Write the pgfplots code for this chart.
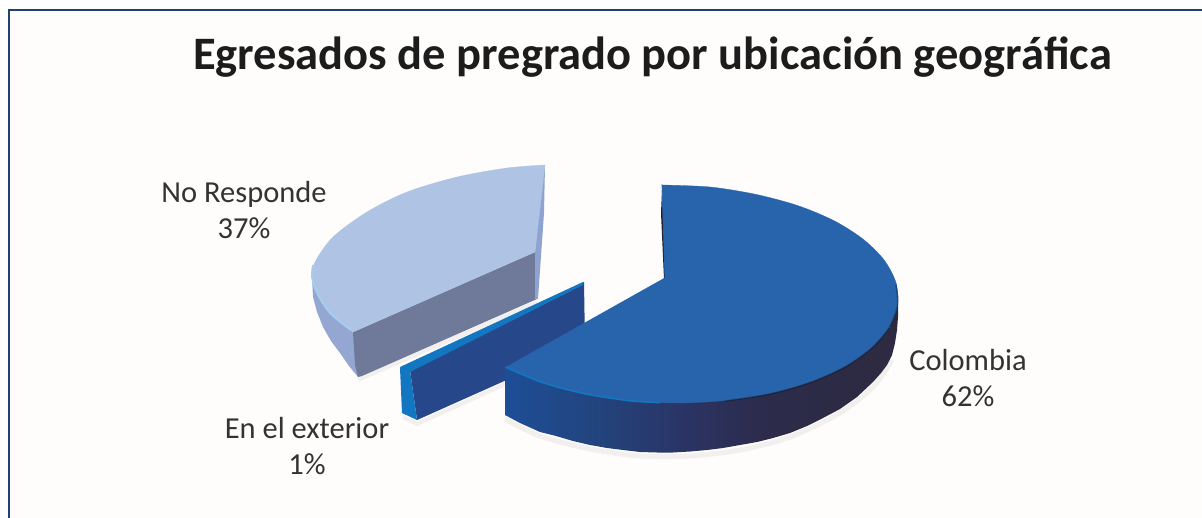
\documentclass[border=0pt]{standalone}
\usepackage{pgfplots}
\pgfplotsset{compat=1.18}
\usepackage{fontspec}
\setmainfont{Carlito}
\definecolor{bgc}{HTML}{FEFDFB}
\definecolor{frame}{HTML}{21426F}
\definecolor{ctop}{HTML}{2764AC}
\definecolor{ntop}{HTML}{AFC3E4}
\definecolor{nside}{HTML}{93A7D2}
\definecolor{ninner}{HTML}{6F7A9A}
\definecolor{nstrip}{HTML}{8FA3D0}
\definecolor{nhigh}{HTML}{A6CDF0}
\definecolor{etop}{HTML}{1376C1}
\definecolor{eface}{HTML}{26488A}
\definecolor{lab}{HTML}{333333}
\definecolor{ttl}{HTML}{1C1C1C}
\definecolor{cdark}{HTML}{222034}
\definecolor{csa}{HTML}{1D4E96}
\definecolor{csb}{HTML}{22457F}
\definecolor{csc}{HTML}{2A3566}
\definecolor{csd}{HTML}{2C2B4B}
\definecolor{cse}{HTML}{2D2A40}
\pgfdeclarehorizontalshading{colside}{100bp}{
 color(0bp)=(csa);
 color(25bp)=(csa);
 color(36bp)=(csb);
 color(47bp)=(csc);
 color(58bp)=(csd);
 color(75bp)=(cse);
 color(100bp)=(cse)}
\begin{document}
\begin{tikzpicture}
\begin{axis}[
  at={(0,0)},anchor=south west,
  width=1202pt,height=518pt,scale only axis,
  xmin=0,xmax=1202,ymin=0,ymax=518,y dir=reverse,
  hide axis,
  clip=true,
]
% background
\addplot[draw=none,fill=white] coordinates {(0,0)(1202,0)(1202,518)(0,518)} -- cycle;
\addplot[draw=none,fill=bgc] coordinates {(9,10)(1202,10)(1202,518)(9,518)} -- cycle;
\addplot[frame,line width=1.2pt] coordinates {(9,518)(9,10)(1202,10)};
% soft shadows
\addplot[gray,opacity=.10,line width=5pt,smooth] coordinates {(505,419)(540,436)(590,449)(640,456)(690,456)(740,450)(790,437)(840,413)(873,387)(892,360)};
\addplot[gray,opacity=.10,line width=4pt] coordinates {(358,380)(537,302)};
\addplot[gray,opacity=.10,line width=4pt] coordinates {(403,417)(417,424)(505,384)};
% No Responde
\addplot[draw=none,fill=nside] coordinates {(312,277)(313,297)(317,312)(323,327)(331,341)(340,353)(349,366)(358,377)(356,332)} -- cycle;
\addplot[draw=none,fill=ninner] coordinates {(353,332)(535,252)(537,299)(362,376)(358,377)(355,365)} -- cycle;
\addplot[draw=none,fill=nstrip] coordinates {(545,165)(544,213)(538,299)(535,299)(535,252)(541,187)} -- cycle;
\addplot[draw=ntop,line width=.3pt,fill=ntop] coordinates {(545,165)(535,252)(353,332)} -- cycle;
\addplot[draw=ntop,line width=.3pt,fill=ntop,smooth] coordinates {(545,165)(507,168)(457,177)(407,192)(367,212)(333,237)(315,262)(312,277)(317,293)(330,313)(353,332)} -- cycle;
\addplot[color=nhigh,line width=1.8pt,smooth] coordinates {(313,265)(312,277)(317,293)(330,313)(351,330)};
% En el exterior
\addplot[draw=none,fill=eface] coordinates {(584,282)(585,345)(417,420)(410,370)} -- cycle;
\addplot[draw=none,fill=etop] coordinates {(400,368)(402,413)(417,420)(410,370)} -- cycle;
\addplot[draw=none,fill=etop] coordinates {(583,282)(400,367)(402,372)(412,371)(583,285)} -- cycle;
% Colombia
\addplot[draw=none,fill=cdark] coordinates {(662,190)(661,213)(664,279)(668,279)} -- cycle;
\addplot[draw=none,shading=colside] coordinates {(505,368)(505,415)(520,423)(540,432)(556,436)(573,441)(590,445)(607,448)(623,450)(640,452)(657,452.5)(673,452.5)(690,451.5)(707,450)(723,448)(740,445)(757,442)(773,438)(790,433)(807,426)(823,418)(840,409)(857,397)(873,382)(881,373)(887,365)(892,355)(895,343)(897,330)(898,317)(898,295)(665,295)} -- cycle;
\addplot[draw=ctop,line width=.7pt,fill=ctop] coordinates {(665,278)(662,185)(889,327.4)} -- cycle;
\addplot[draw=ctop,line width=.7pt,fill=ctop] coordinates {(665,278)(889,327.4)(506,367.3)} -- cycle;
\addplot[draw=ctop,line width=.3pt,fill=ctop,smooth] coordinates {(662,185)(710,187)(755.5,194.3)(797.5,205.5)(834,220.7)(863,239.1)(884,259.9)(895.8,282.2)(897.5,305)(889,327.4)} -- cycle;
\addplot[draw=ctop,line width=.3pt,fill=ctop,smooth] coordinates {(895.8,282.2)(897.5,305)(889,327.4)(871,348.2)(844.7,366.7)(810.4,382)(770,393.5)(725,400.5)(678,403)(630,400.8)(584.5,393.7)(542.5,382.5)(506,367.3)} -- cycle;
\addplot[color=etop,line width=1.6pt,smooth] coordinates {(506,367.3)(542.5,382.5)(584.5,393.7)(630,400.8)(660,402.6)};
\addplot[color=black,opacity=.25,line width=1.6pt,smooth] coordinates {(725,401)(770,394)(810.4,382.5)(844.7,367.2)(871,348.7)(889,327.9)(897.5,305)(896,285)};
% Text
\node[font=\fontsize{46.5}{52}\selectfont\bfseries,text=ttl,anchor=center] at (axis cs:652.5,57) {Egresados de pregrado por ubicación geográfica};
\node[font=\fontsize{30.5}{36.5}\selectfont,text=lab,align=center] at (axis cs:244,210) {No Responde\\37\%};
\node[font=\fontsize{30.5}{36.5}\selectfont,text=lab,align=center] at (axis cs:307,446) {En el exterior\\1\%};
\node[font=\fontsize{30.5}{36.5}\selectfont,text=lab,align=center] at (axis cs:968,378) {Colombia\\62\%};
\end{axis}
\end{tikzpicture}
\end{document}
